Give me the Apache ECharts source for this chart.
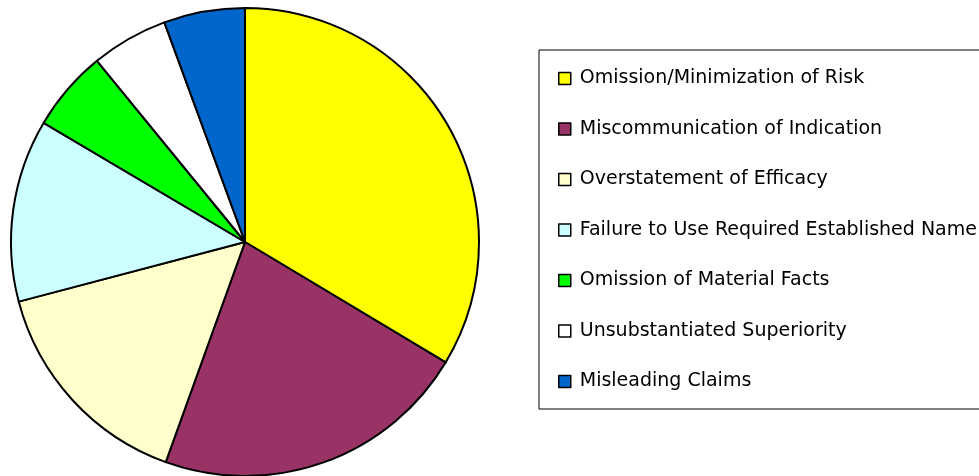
<!DOCTYPE html>
<html>
<head>
<meta charset="utf-8">
<script src="https://cdn.jsdelivr.net/npm/echarts@6/dist/echarts.min.js"></script>
<style>
  html, body { margin: 0; padding: 0; background: #fff; }
  #chart { width: 979px; height: 476px; }
</style>
</head>
<body>
<div id="chart"></div>
<script>
const categories = [
  'Omission/Minimization of Risk',
  'Miscommunication of Indication',
  'Overstatement of Efficacy',
  'Failure to Use Required Established Name',
  'Omission of Material Facts',
  'Unsubstantiated Superiority',
  'Misleading Claims'
];
const shares = [33.6, 21.9, 15.4, 12.6, 5.6, 5.3, 5.6];
const colors = ['#FFFF00', '#993366', '#FFFFCC', '#CCFFFF', '#00FF00', '#FFFFFF', '#0066CC'];

const chart = echarts.init(document.getElementById('chart'));

const pieData = categories.map((name, i) => ({
  name: name,
  value: shares[i],
  itemStyle: { color: colors[i] }
}));

chart.setOption({
  animation: false,
  legend: {
    orient: 'vertical',
    left: 539,
    top: 50,
    padding: [18.5, 60, 17.5, 19],
    borderColor: '#000',
    borderWidth: 1,
    itemWidth: 12,
    itemHeight: 12,
    itemGap: 30.5,
    icon: 'rect',
    selectedMode: false,
    itemStyle: { borderColor: '#000', borderWidth: 1.5 },
    textStyle: {
      fontFamily: 'DejaVu Sans',
      fontSize: 19,
      lineHeight: 20,
      color: '#000',
      padding: [0, 0, 0, 4]
    },
    data: categories
  },
  series: [{
    type: 'pie',
    center: [245, 242],
    radius: 234,
    startAngle: 90,
    clockwise: true,
    label: { show: false },
    labelLine: { show: false },
    emphasis: { disabled: true },
    itemStyle: { borderColor: '#000', borderWidth: 2 },
    data: pieData
  }]
});
</script>
</body>
</html>
